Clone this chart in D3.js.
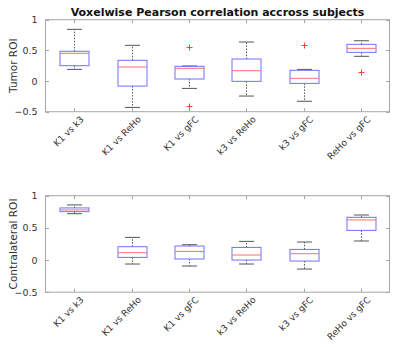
<!DOCTYPE html>
<html><head><meta charset="utf-8">
<script src="https://cdn.jsdelivr.net/npm/d3@7"></script>
<style>body{margin:0;background:#fff}svg{display:block}text{font-family:"DejaVu Sans",sans-serif}</style>
</head><body><svg id="c" width="400" height="347"></svg>
<script>
const categories = ["K1 vs k3","K1 vs ReHo","K1 vs gFC","k3 vs ReHo","k3 vs gFC","ReHo vs gFC"];
const yTicks = [-0.5, 0, 0.5, 1];
// [lowerWhisker, Q1, median, Q3, upperWhisker]
const tumorStats = [
  [0.19, 0.25, 0.452, 0.485, 0.843],
  [-0.43, -0.082, 0.228, 0.338, 0.582],
  [-0.12, 0.033, 0.207, 0.24, 0.245],
  [-0.245, -0.005, 0.168, 0.359, 0.636],
  [-0.33, -0.038, 0.044, 0.175, 0.19],
  [0.403, 0.468, 0.533, 0.598, 0.657]
];
const tumorOutliers = [[], [], [0.56, -0.41], [], [0.582], [0.142]];
const contraStats = [
  [0.72, 0.752, 0.779, 0.81, 0.857],
  [-0.062, 0.041, 0.114, 0.207, 0.352],
  [-0.093, 0.016, 0.134, 0.218, 0.238],
  [-0.062, 0.0, 0.078, 0.196, 0.29],
  [-0.14, -0.016, 0.098, 0.165, 0.28],
  [0.296, 0.461, 0.623, 0.664, 0.70]
];
const contraOutliers = [[], [], [], [], [], []];

const svg = d3.select("#c");
const left = 45.5, right = 389.5;
const axisCol = "#a6a6a6", textCol = "#333";
const x = d3.scaleBand().domain(categories).range([left, right]).padding(0);
const cxOf = c => Math.round(x(c) + x.bandwidth()/2) + 0.5;

function panel(top, bottom, stats, outliers, ylabel, title){
  const y = d3.scaleLinear().domain([-0.5, 1]).range([bottom, top]);
  const g = svg.append("g");
  g.append("rect").attr("x", left).attr("y", top).attr("width", right-left).attr("height", bottom-top)
    .attr("fill", "none").attr("stroke", axisCol).attr("stroke-width", 1);
  const ya = d3.axisLeft(y).tickValues(yTicks).tickSize(0).tickPadding(8).tickFormat(d3.format("~g"));
  const yg = g.append("g").attr("transform", `translate(${left},0)`).call(ya);
  yg.select(".domain").remove();
  yg.selectAll("text").attr("font-size", 9.5).attr("fill", textCol);
  yTicks.forEach(t => {
    g.append("line").attr("x1", left).attr("x2", left+3.5).attr("y1", Math.round(y(t))+0.5).attr("y2", Math.round(y(t))+0.5).attr("stroke", axisCol);
    g.append("line").attr("x1", right).attr("x2", right-3.5).attr("y1", Math.round(y(t))+0.5).attr("y2", Math.round(y(t))+0.5).attr("stroke", axisCol);
  });
  const xa = d3.axisBottom(x).tickSize(0).tickPadding(6);
  const xg = g.append("g").attr("transform", `translate(0,${bottom})`).call(xa);
  xg.select(".domain").remove();
  xg.selectAll("text").attr("font-size", 9).attr("fill", textCol)
    .attr("text-anchor", "end").attr("dy", 0)
    .attr("transform", "translate(6,4) rotate(-45)");
  categories.forEach(c => {
    const cx = cxOf(c);
    g.append("line").attr("x1", cx).attr("x2", cx).attr("y1", top).attr("y2", top+3.5).attr("stroke", axisCol);
    g.append("line").attr("x1", cx).attr("x2", cx).attr("y1", bottom).attr("y2", bottom-3.5).attr("stroke", axisCol);
  });
  g.append("text").attr("transform", `translate(17,${(top+bottom)/2}) rotate(-90)`)
    .attr("text-anchor", "middle").attr("font-size", 10.5).attr("fill", textCol).text(ylabel);
  if (title) {
    g.append("text").attr("x", (left+right)/2).attr("y", top-4).attr("text-anchor", "middle")
      .attr("font-size", 11).attr("font-weight", "bold").attr("fill", "#111").text(title);
  }
  const bw = Math.round(x.bandwidth()*0.51), cw = Math.round(x.bandwidth()*0.255);
  stats.forEach((s, i) => {
    const cx = cxOf(categories[i]);
    const [lw, q1, med, q3, uw] = s;
    const wc = "#555";
    g.append("line").attr("x1", cx).attr("x2", cx).attr("y1", y(q3)).attr("y2", y(uw)).attr("stroke", wc).attr("stroke-dasharray", "1.5,1.5");
    g.append("line").attr("x1", cx).attr("x2", cx).attr("y1", y(q1)).attr("y2", y(lw)).attr("stroke", wc).attr("stroke-dasharray", "1.5,1.5");
    g.append("line").attr("x1", cx-cw/2).attr("x2", cx+cw/2).attr("y1", y(uw)).attr("y2", y(uw)).attr("stroke", wc);
    g.append("line").attr("x1", cx-cw/2).attr("x2", cx+cw/2).attr("y1", y(lw)).attr("y2", y(lw)).attr("stroke", wc);
    g.append("rect").attr("x", cx-bw/2).attr("y", y(q3)).attr("width", bw).attr("height", y(q1)-y(q3))
      .attr("fill", "none").attr("stroke", "#7070ff").attr("stroke-width", 1);
    g.append("line").attr("x1", cx-bw/2).attr("x2", cx+bw/2).attr("y1", y(med)).attr("y2", y(med)).attr("stroke", "#ff7070");
    outliers[i].forEach(o => {
      const oy = Math.round(y(o)) + 0.5;
      g.append("path").attr("d", `M${cx-3},${oy}H${cx+3}M${cx},${oy-3}V${oy+3}`)
        .attr("stroke", "#ff4040").attr("stroke-width", 1).attr("fill", "none");
    });
  });
}
panel(19.7, 111.7, tumorStats, tumorOutliers, "Tumor ROI", "Voxelwise Pearson correlation accross subjects");
panel(195.7, 292.2, contraStats, contraOutliers, "Contralateral ROI", null);
</script></body></html>
